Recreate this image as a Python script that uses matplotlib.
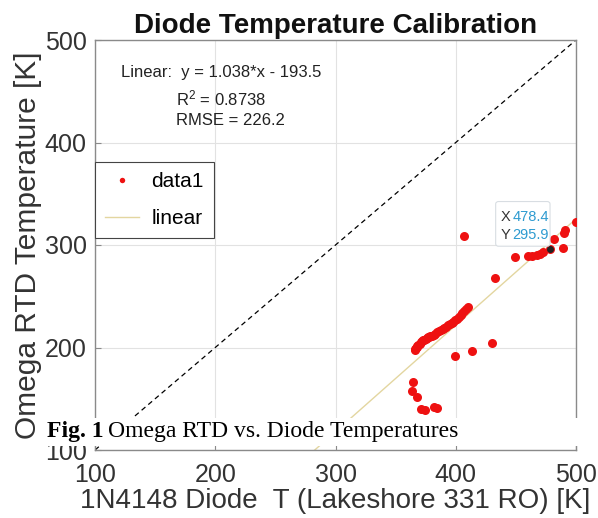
"""Diode temperature calibration scatter with linear fit"""

import matplotlib
matplotlib.use("Agg")
import matplotlib.pyplot as plt
from matplotlib.patches import Rectangle, FancyBboxPatch

plt.rcParams['font.family'] = ['Liberation Sans', 'DejaVu Sans']
plt.rcParams['mathtext.fontset'] = 'custom'
plt.rcParams['mathtext.rm'] = 'Liberation Sans'
plt.rcParams['mathtext.it'] = 'Liberation Sans:italic'

# main cluster of readings (diode T, RTD T)
cluster_x = [366, 366.5, 367, 367.5, 368, 369, 370, 371, 372, 373, 374, 375, 376,
             377, 378, 379, 380, 381.5, 383, 384.5, 386, 387.5, 389, 390.5, 392,
             393.5, 395, 396.5, 398, 399.5, 401, 402.5, 404, 405.5, 407, 408.5, 410]
cluster_y = [197.5, 198.5, 199.5, 200.5, 201.3, 202.5, 203.8, 205, 206, 207, 207.8,
             208.5, 209.2, 209.8, 210.4, 211, 211.6, 212.5, 213.6, 214.7, 215.8,
             216.9, 218, 219.2, 220.4, 221.6, 222.8, 224, 225.3, 226.6, 228, 229.5,
             231.3, 233.2, 235.3, 237.5, 240]

# scattered readings
other_x = [407.1, 449.3, 460.4, 463.1, 467.3, 470.1, 472.3, 478.4, 481.7, 488.9,
           490.0, 491.1, 500.0, 432.4, 429.9, 413.8, 399.4,
           364.7, 363.9, 367.5, 371.1, 374.4, 381.9, 384.2]
other_y = [309.1, 288.0, 289.0, 289.3, 290.0, 291.2, 293.5, 295.9, 305.6, 296.8,
           312.0, 314.6, 322.8, 268.1, 204.1, 196.9, 192.0,
           166.3, 157.3, 151.4, 140.3, 139.0, 142.2, 141.0]

data_x = cluster_x + other_x
data_y = cluster_y + other_y

slope = 1.038
intercept = -193.5
fit_x = [100, 500]
fit_y = [slope * v + intercept for v in fit_x]

tip_x = 478.4
tip_y = 295.9

ticks = [100, 200, 300, 400, 500]

fig = plt.figure(figsize=(5.98, 5.18), dpi=100)
ax = fig.add_axes([95 / 598, 68 / 518, 481 / 598, 410 / 518])

ax.plot(ticks, ticks, linestyle=(0, (4, 3)), color='black', linewidth=0.9, zorder=2)
line_fit, = ax.plot(fit_x, fit_y, color='#e3d6a0', linewidth=1.0, zorder=2, label='linear')
pts, = ax.plot(data_x, data_y, 'o', color='#ee1111', markersize=6.5, markeredgewidth=0,
               zorder=3, label='data1')
ax.plot([tip_x], [tip_y], 'o', color='#222222', markersize=4, zorder=4)

ax.set_xlim(100, 500)
ax.set_ylim(100, 500)
ax.set_xticks(ticks)
ax.set_yticks(ticks)
ax.grid(True, color='#e2e2e2', linewidth=0.8)
ax.set_axisbelow(True)
for sp in ax.spines.values():
    sp.set_color('#8a8a8a')
    sp.set_linewidth(1.0)
ax.tick_params(direction='in', length=4, color='#8a8a8a', labelsize=18,
               labelcolor='#333333')
ax.tick_params(axis='x', pad=9)
ax.tick_params(axis='y', pad=6)

ax.set_title('Diode Temperature Calibration', fontsize=20, fontweight='bold',
             color='#111111', pad=5)
ax.set_xlabel('1N4148 Diode  T (Lakeshore 331 RO) [K]', fontsize=20, color='#333333',
              labelpad=1)
ax.set_ylabel('Omega RTD Temperature [K]', fontsize=21.5, color='#333333', labelpad=2)

# fit statistics
ax.text(0.054, 0.921, 'Linear:  y = 1.038*x - 193.5', transform=ax.transAxes,
        fontsize=12, color='#222222', va='center')
ax.text(0.168, 0.857, r'R$^2$ = 0.8738', transform=ax.transAxes,
        fontsize=12, color='#222222', va='center')
ax.text(0.168, 0.803, 'RMSE = 226.2', transform=ax.transAxes,
        fontsize=12, color='#222222', va='center')

leg = ax.legend(handles=[pts, line_fit], loc='upper left', bbox_to_anchor=(0, 0.703),
                borderaxespad=0, fancybox=False, framealpha=1, edgecolor='#444444',
                fontsize=15, handlelength=1.6, handletextpad=0.6, markerscale=0.6,
                labelspacing=0.85, borderpad=0.5)
leg.get_frame().set_linewidth(0.8)

# data tip
ax.add_patch(FancyBboxPatch((0.833, 0.497), 0.113, 0.109, transform=ax.transAxes,
                            boxstyle='round,pad=0,rounding_size=0.006',
                            facecolor='white', edgecolor='#d5dbe0', linewidth=0.8,
                            alpha=0.92, zorder=5))
ax.text(0.843, 0.568, 'X', transform=ax.transAxes, fontsize=10.5, color='#333333',
        va='center', zorder=6)
ax.text(0.868, 0.568, '478.4', transform=ax.transAxes, fontsize=10.5, color='#2e9bd0',
        va='center', zorder=6)
ax.text(0.843, 0.524, 'Y', transform=ax.transAxes, fontsize=10.5, color='#333333',
        va='center', zorder=6)
ax.text(0.868, 0.524, '295.9', transform=ax.transAxes, fontsize=10.5, color='#2e9bd0',
        va='center', zorder=6)

# figure caption pasted over the bottom of the chart
fig.patches.append(Rectangle((44 / 598, 72 / 518), 1, 28 / 518, transform=fig.transFigure,
                             facecolor='white', edgecolor='none', zorder=10))
cap = fig.text(47 / 598, 86 / 518, 'Fig. 1', fontsize=17, family='Liberation Serif',
               fontweight='bold', va='center', zorder=11)
renderer = fig.canvas.get_renderer()
cap_end = cap.get_window_extent(renderer).x1
fig.text((cap_end + 4.5) / 598, 86 / 518, 'Omega RTD vs. Diode Temperatures', fontsize=17,
         family='Liberation Serif', va='center', zorder=11)

fig.savefig('out.png', dpi=100)
